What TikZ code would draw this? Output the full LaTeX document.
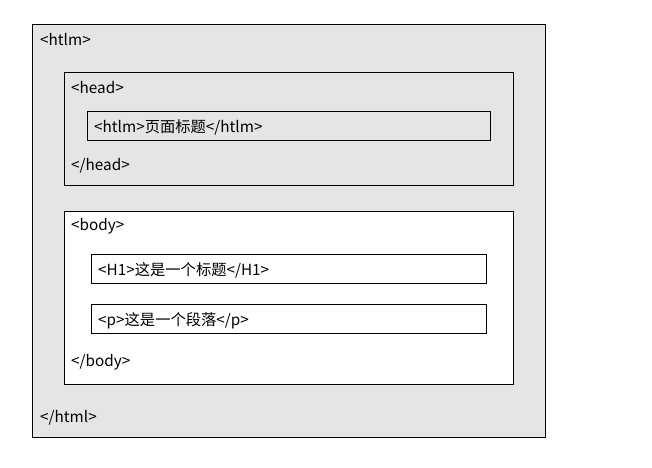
\documentclass[tikz,border=0pt]{standalone}
\usepackage{fontspec}
\setmainfont{Noto Sans CJK SC}
\begin{document}
\begin{tikzpicture}[x=1pt,y=-1pt,
  box/.style={draw=black,line width=0.8pt},
  gr/.style={box,fill=gray!20},
  wh/.style={box,fill=white},
  lbl/.style={anchor=west,inner sep=0pt,font=\fontsize{15.3}{17}\selectfont}]
\useasboundingbox (0,0) rectangle (652,467);
\draw[gr] (32,24) rectangle (545,437);
\draw[gr] (64,72) rectangle (513,185);
\draw[gr] (87,111) rectangle (490,140);
\draw[wh] (64,211) rectangle (513,384);
\draw[wh] (91,254) rectangle (486,283);
\draw[wh] (91,304) rectangle (486,333);
\node[lbl] (t1) at (40,39.5) {<htlm>};
\node[lbl] (t2) at (71,87.5) {<head>};
\node[lbl] (t3) at (94,127.5) {<htlm>页面标题</htlm>};
\node[lbl] (t4) at (71,165.5) {</head>};
\node[lbl] (t5) at (71,226.5) {<body>};
\node[lbl] (t6) at (98,270.5) {<H1>这是一个标题</H1>};
\node[lbl] (t7) at (98,320.5) {<p>这是一个段落</p>};
\node[lbl] (t8) at (71,362.5) {</body>};
\node[lbl] (t9) at (40,417.5) {</html>};
\end{tikzpicture}
\end{document}
